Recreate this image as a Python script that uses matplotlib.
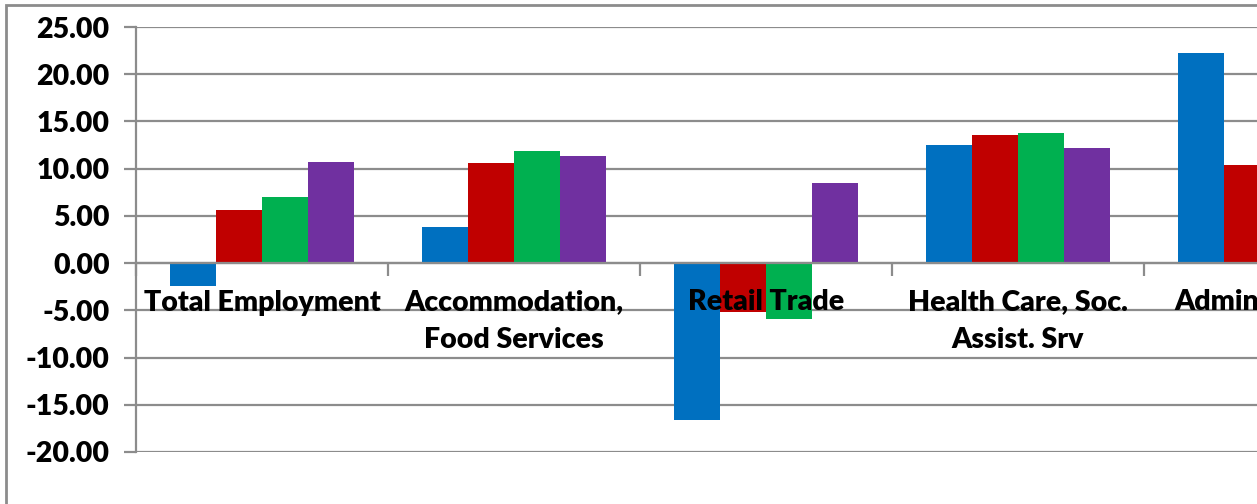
import matplotlib.pyplot as plt
import matplotlib.patches as mpatches
import numpy as np

# Categories (the fifth one is cut off at the right edge of the picture)
categories = ['Total Employment', 'Accommodation,\nFood Services', 'Retail Trade',
              'Health Care, Soc.\nAssist. Srv', 'Administrative']

# Four series per category (nan = not visible in the picture)
series_blue = [-2.4, 3.8, -16.6, 12.5, 22.2]
series_red = [5.65, 10.6, -5.2, 13.6, 10.4]
series_green = [7.0, 11.9, -5.9, 13.8, np.nan]
series_purple = [10.7, 11.3, 8.5, 12.2, np.nan]

colors = ['#0070C0', '#C00000', '#00B050', '#7030A0']
yticks = [25, 20, 15, 10, 5, 0, -5, -10, -15, -20]

plt.rcParams['font.family'] = ['Lato', 'DejaVu Sans']

W, H = 1257, 504
fig = plt.figure(figsize=(W / 100, H / 100), dpi=100)

# outer chart border (runs off the right and bottom edges)
fig.patches.append(mpatches.Rectangle((6 / W, -0.1), 2.0, (H - 5) / H + 0.1,
                                      transform=fig.transFigure, fill=False,
                                      edgecolor='#8c8c8c', linewidth=2))

# axes spans five category slots of 252 px; the last one is clipped by the figure
ax = fig.add_axes([136 / W, (H - 452) / H, 5 * 252 / W, 425 / H])

x = np.arange(len(categories))
bw = 0.183
for k, (vals, c) in enumerate(zip([series_blue, series_red, series_green, series_purple], colors)):
    ax.bar(x + (k - 1.5) * bw, vals, width=bw, color=c, zorder=2)

ax.set_xlim(-0.5, len(categories) - 0.5)
ax.set_ylim(-20, 25)
ax.set_yticks(yticks)
ax.set_yticklabels([f'{v:.2f}' for v in yticks], fontsize=20.5, fontweight='heavy')
ax.yaxis.grid(True, color='#8c8c8c', linewidth=1.6, zorder=0)
ax.set_axisbelow(True)
ax.tick_params(axis='y', length=9, width=1.6, color='#8c8c8c', pad=10)

# x axis sits at zero, ticks between categories
ax.spines['bottom'].set_position(('data', 0))
ax.spines['bottom'].set_color('#8c8c8c')
ax.spines['bottom'].set_linewidth(1.6)
ax.spines['left'].set_color('#8c8c8c')
ax.spines['left'].set_linewidth(1.6)
ax.spines['top'].set_visible(False)
ax.spines['right'].set_visible(False)
ax.set_xticks(np.arange(len(categories) + 1) - 0.5)
ax.set_xticklabels([])
ax.tick_params(axis='x', length=9, width=1.6, color='#8c8c8c', direction='out')

for i, lab in enumerate(categories):
    ax.annotate(lab, xy=(i, 0), xytext=(0, -19), textcoords='offset points',
                ha='center', va='top', fontsize=20.5, fontweight='heavy',
                linespacing=1.55, zorder=5, annotation_clip=False)

fig.savefig('out.png', dpi=100)
